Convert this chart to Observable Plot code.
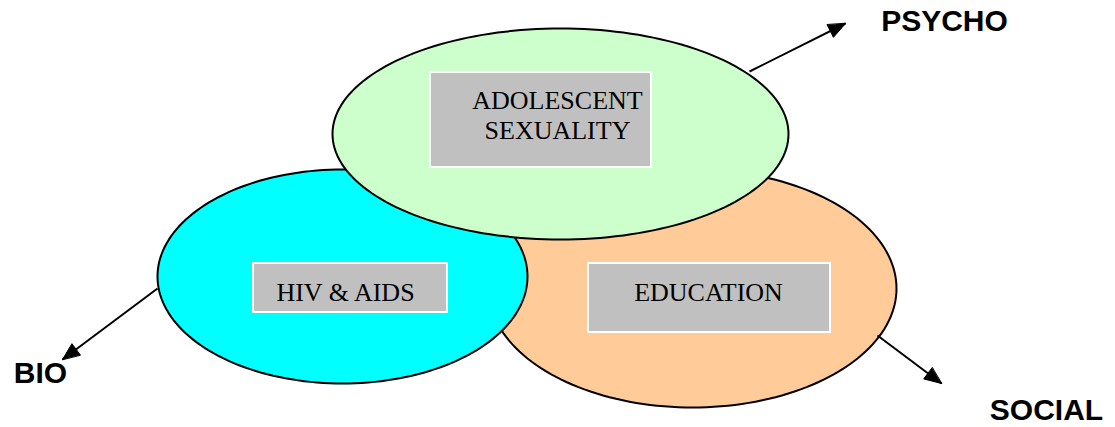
<!DOCTYPE html>
<html>
<head>
<meta charset="utf-8">
<script src="https://cdn.jsdelivr.net/npm/d3@7"></script>
<script src="https://cdn.jsdelivr.net/npm/@observablehq/plot@0.6"></script>
<style>
  html, body { margin: 0; padding: 0; background: #fff; }
  #chart svg { display: block; }
</style>
</head>
<body>
<div id="chart"></div>
<script>
// Ellipses (drawn in this order: back to front)
const circleNames = ["SOCIAL", "BIO", "PSYCHO"];
const circleCx = [692, 342, 560];
const circleCy = [288, 276, 133.5];
const circleRx = [204, 185, 228];
const circleRy = [119, 107, 105.5];
const circleFill = ["#ffcc99", "#00ffff", "#ccffcc"];

// Grey boxes
const boxLabels = ["ADOLESCENT\nSEXUALITY", "HIV & AIDS", "EDUCATION"];
const boxX1 = [430, 253, 588];
const boxX2 = [651, 447, 830];
const boxY1 = [72, 263, 263];
const boxY2 = [167, 312, 332];
const boxTextX = [557, 345, 708];
const boxTextY = [114, 291, 291];

// Arrows and their labels
const arrowLabels = ["PSYCHO", "BIO", "SOCIAL"];
const arrowFromX = [749, 157, 877];
const arrowFromY = [71, 288, 335];
const arrowToX = [845, 62, 941];
const arrowToY = [23, 359, 383];
const labelX = [944, 40, 1046];
const labelY = [21, 373, 410];

const W = 1115, H = 427;

// ellipse outlines
const ellipsePts = circleNames.flatMap((name, i) =>
  d3.range(0, 361, 2).map(a => ({
    name,
    x: circleCx[i] + circleRx[i] * Math.cos(a * Math.PI / 180),
    y: circleCy[i] + circleRy[i] * Math.sin(a * Math.PI / 180)
  }))
);

const boxes = boxLabels.map((label, i) => ({
  label, x1: boxX1[i], x2: boxX2[i], y1: boxY1[i], y2: boxY2[i], tx: boxTextX[i], ty: boxTextY[i]
}));

const arrows = arrowLabels.map((label, i) => ({
  label, x1: arrowFromX[i], y1: arrowFromY[i], x2: arrowToX[i], y2: arrowToY[i], lx: labelX[i], ly: labelY[i]
}));

// arrow heads (filled triangles)
const headLen = 17, headW = 14;
const heads = arrows.flatMap(a => {
  const dx = a.x2 - a.x1, dy = a.y2 - a.y1, len = Math.hypot(dx, dy);
  const ux = dx / len, uy = dy / len, nx = -uy, ny = ux;
  const bx = a.x2 - headLen * ux, by = a.y2 - headLen * uy;
  return [
    {label: a.label, x: a.x2, y: a.y2},
    {label: a.label, x: bx + nx * headW / 2, y: by + ny * headW / 2},
    {label: a.label, x: bx - nx * headW / 2, y: by - ny * headW / 2}
  ];
});

const marks = [];
circleNames.forEach((name, i) => {
  marks.push(Plot.line(ellipsePts.filter(d => d.name === name), {
    x: "x", y: "y", curve: "linear-closed",
    fill: circleFill[i], stroke: "black", strokeWidth: 2
  }));
});
marks.push(
  Plot.rect(boxes, {x1: "x1", x2: "x2", y1: "y1", y2: "y2", fill: "#c0c0c0", stroke: "white", strokeWidth: 2}),
  Plot.text(boxes, {x: "tx", y: "ty", text: "label", fontFamily: "'Liberation Serif', 'Times New Roman', serif",
    fontSize: 26, fill: "black", lineAnchor: "middle", lineHeight: 1.154}),
  Plot.link(arrows, {x1: "x1", y1: "y1", x2: "x2", y2: "y2", stroke: "black", strokeWidth: 2}),
  Plot.line(heads, {x: "x", y: "y", z: "label", curve: "linear-closed", fill: "black", stroke: "black", strokeWidth: 1}),
  Plot.text(arrows, {x: "lx", y: "ly", text: "label", fontFamily: "'Liberation Sans', Arial, sans-serif",
    fontWeight: "bold", fontSize: 30, fill: "black", lineAnchor: "middle"})
);

const chart = Plot.plot({
  width: W,
  height: H,
  margin: 0,
  x: {type: "identity", axis: null},
  y: {type: "identity", axis: null},
  style: {background: "white", overflow: "visible"},
  marks
});
document.getElementById("chart").appendChild(chart);
</script>
</body>
</html>
